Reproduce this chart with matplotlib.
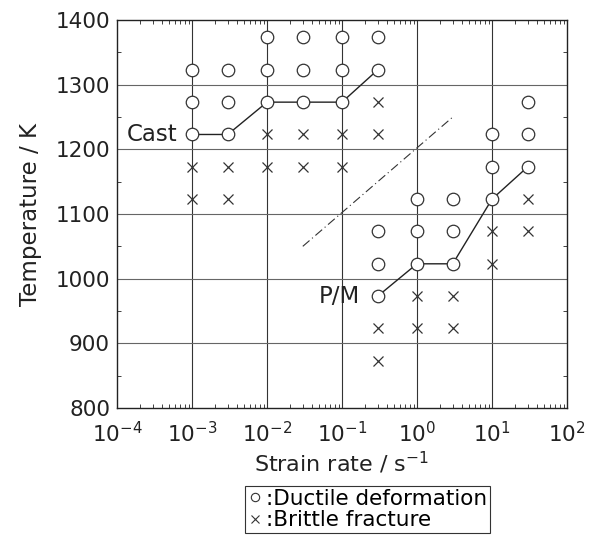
import numpy as np
from matplotlib import pyplot as plt
from matplotlib.lines import Line2D
from matplotlib.ticker import LogLocator, NullFormatter

# strain rate (s^-1) and temperature (K) of the test conditions
castDuctileRate = [1e-3, 1e-3, 1e-3, 3e-3, 3e-3, 3e-3, 1e-2, 1e-2, 1e-2, 3e-2, 3e-2, 3e-2, 1e-1, 1e-1, 1e-1, 3e-1, 3e-1]
castDuctileTemp = [1323, 1273, 1223, 1323, 1273, 1223, 1373, 1323, 1273, 1373, 1323, 1273, 1373, 1323, 1273, 1373, 1323]
castBrittleRate = [1e-3, 1e-3, 3e-3, 3e-3, 1e-2, 1e-2, 3e-2, 3e-2, 1e-1, 1e-1, 3e-1, 3e-1]
castBrittleTemp = [1173, 1123, 1173, 1123, 1223, 1173, 1223, 1173, 1223, 1173, 1273, 1223]
castBoundRate = [1e-3, 3e-3, 1e-2, 3e-2, 1e-1, 3e-1]
castBoundTemp = [1223, 1223, 1273, 1273, 1273, 1323]

pmDuctileRate = [3e-1, 3e-1, 3e-1, 1, 1, 1, 3, 3, 3, 10, 10, 10, 30, 30, 30]
pmDuctileTemp = [1073, 1023, 973, 1123, 1073, 1023, 1123, 1073, 1023, 1223, 1173, 1123, 1273, 1223, 1173]
pmBrittleRate = [3e-1, 3e-1, 1, 1, 3, 3, 10, 10, 30, 30]
pmBrittleTemp = [923, 873, 973, 923, 973, 923, 1073, 1023, 1123, 1073]
pmBoundRate = [3e-1, 1, 3, 10, 30]
pmBoundTemp = [973, 1023, 1023, 1123, 1173]

dashRate = [3e-2, 3]
dashTemp = [1050, 1250]

xTicks = [1e-4, 1e-3, 1e-2, 1e-1, 1e0, 1e1, 1e2]
xTickLabels = ['$10^{-4}$', '$10^{-3}$', '$10^{-2}$', '$10^{-1}$', '$10^{0}$', '$10^{1}$', '$10^{2}$']
yTicks = [800, 900, 1000, 1100, 1200, 1300, 1400]

plt.rcParams['font.family'] = ['DejaVu Sans']
plt.rcParams['mathtext.fontset'] = 'dejavusans'

fig = plt.figure(figsize=(5.94, 5.47), dpi=100)
ax = fig.add_axes([0.197, 0.2541, 0.7575, 0.7093])

ax.set_xscale('log')
ax.set_xlim(1e-4, 1e2)
ax.set_ylim(800, 1400)

for xv in xTicks[1:-1]:
    ax.axvline(xv, color='#333333', lw=0.8, zorder=1)
for yv in yTicks[1:-1]:
    ax.axhline(yv, color='#666666', lw=0.8, zorder=1)

ax.plot(castBoundRate, castBoundTemp, color='#222222', lw=1.0, zorder=2)
ax.plot(pmBoundRate, pmBoundTemp, color='#222222', lw=1.0, zorder=2)
ax.plot(dashRate, dashTemp, color='#333333', lw=0.8, linestyle=(0, (8, 3, 1, 3)), zorder=2)

circ = dict(marker='o', linestyle='none', markersize=9, markerfacecolor='white',
            markeredgecolor='#333333', markeredgewidth=0.9, zorder=3)
cross = dict(marker='x', linestyle='none', markersize=7, color='#333333',
             markeredgewidth=0.9, zorder=3)
ax.plot(castDuctileRate, castDuctileTemp, **circ)
ax.plot(pmDuctileRate, pmDuctileTemp, **circ)
ax.plot(castBrittleRate, castBrittleTemp, **cross)
ax.plot(pmBrittleRate, pmBrittleTemp, **cross)

ax.text(6.3e-4, 1223, 'Cast', fontsize=16.5, ha='right', va='center', color='#222222')
ax.text(1.75e-1, 973, 'P/M', fontsize=16.5, ha='right', va='center', color='#222222')

ax.set_xticks(xTicks)
ax.set_xticklabels(xTickLabels)
ax.xaxis.set_minor_locator(LogLocator(base=10, subs=np.arange(2, 10), numticks=20))
ax.xaxis.set_minor_formatter(NullFormatter())
ax.set_yticks(yTicks)
ax.set_yticks(np.arange(850, 1400, 100), minor=True)
ax.tick_params(which='both', direction='in', top=True, right=True, labelsize=15.5, colors='#222222')
ax.tick_params(axis='x', which='major', pad=9)
ax.tick_params(axis='y', which='major', pad=5)
ax.tick_params(which='major', length=0)
ax.tick_params(which='minor', length=3, width=0.6)
for sp in ax.spines.values():
    sp.set_linewidth(1.0)
    sp.set_color('#222222')

ax.set_xlabel('Strain rate / s$^{-1}$', fontsize=16, color='#222222', labelpad=3)
ax.set_ylabel('Temperature / K', fontsize=16.5, color='#222222', labelpad=10)

handles = [Line2D([], [], marker='o', linestyle='none', markersize=6, markerfacecolor='white',
                  markeredgecolor='#333333', markeredgewidth=0.8),
           Line2D([], [], marker='x', linestyle='none', markersize=6, color='#333333',
                  markeredgewidth=0.8)]
leg = fig.legend(handles, [':Ductile deformation', ':Brittle fracture'],
                 loc='upper left', bbox_to_anchor=(0.413, 0.112), fontsize=15.5,
                 handlelength=0.6, handletextpad=0.2, borderpad=0.15, labelspacing=0.05,
                 borderaxespad=0, fancybox=False, framealpha=1, edgecolor='#333333')
leg.get_frame().set_linewidth(0.8)

fig.savefig('out.png', dpi=100)
